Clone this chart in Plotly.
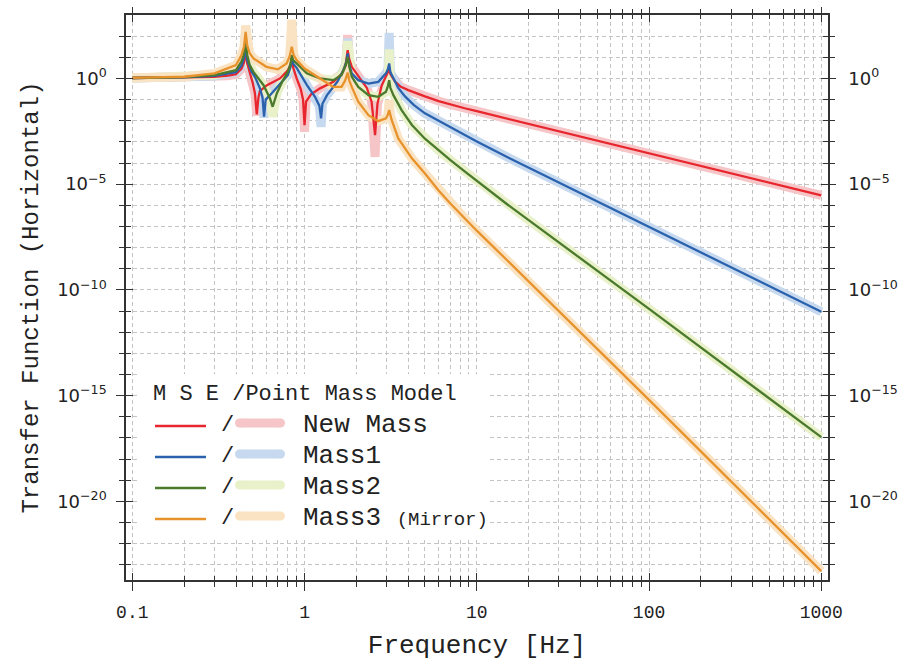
import numpy as np
import plotly.graph_objects as go

# ---------------- data (frequency in Hz, magnitude as log10) ----------------
red_f = [0.1, 0.2, 0.3, 0.36, 0.4, 0.43, 0.445, 0.455, 0.465, 0.48, 0.50, 0.515, 0.528, 0.54, 0.55, 0.605,
         0.72, 0.80, 0.83, 0.843, 0.86, 0.9, 0.95, 0.98, 1.0, 1.02, 1.09, 1.23, 1.47, 1.64, 1.73, 1.78,
         1.82, 1.88, 2.05, 2.3, 2.45, 2.567, 2.65, 2.8, 2.97, 3.05, 3.1, 3.15, 3.35, 3.6, 4.0, 4.5, 5.0,
         6.0, 7.0, 8.5, 10, 20, 100, 1000]
red_mse = [0.02, 0.04, 0.08, 0.13, 0.2, 0.45, 0.75, 1.26, 0.7, 0.3, -0.2, -0.7, -1.70, -0.9, -0.6, -0.32,
           0.0, 0.39, 0.65, 0.96, 0.5, 0.0, -0.5, -1.0, -2.21, -1.1, -0.75, -0.47, -0.16, 0.2, 0.6, 1.34,
           0.9, 0.55, 0.12, -0.45, -1.1, -2.68, -1.2, -0.35, 0.1, 0.3, 0.55, 0.2, -0.15, -0.38, -0.55, -0.72, -0.85,
           -1.07, -1.23, -1.41, -1.55, -2.15, -3.55, -5.53]
red_pm = [0.02, 0.04, 0.08, 0.13, 0.2, 0.45, 0.75, 1.3, 0.7, 0.3, -0.2, -0.7, -1.75, -0.9, -0.6, -0.32,
          0.0, 0.39, 0.65, 1.0, 0.5, 0.0, -0.5, -1.0, -2.52, -1.1, -0.75, -0.47, -0.16, 0.2, 0.6, 2.05,
          0.9, 0.55, 0.12, -0.45, -1.1, -3.71, -1.2, -0.35, 0.1, 0.3, 0.6, 0.2, -0.15, -0.38, -0.55, -0.72, -0.85,
          -1.07, -1.23, -1.41, -1.55, -2.15, -3.55, -5.53]

blue_f = [0.1, 0.2, 0.3, 0.4, 0.43, 0.445, 0.455, 0.465, 0.49, 0.52, 0.55, 0.57, 0.582, 0.595, 0.63, 0.72,
          0.80, 0.83, 0.843, 0.86, 0.90, 1.03, 1.15, 1.22, 1.247, 1.27, 1.35, 1.55, 1.68, 1.75, 1.78, 1.81,
          1.88, 2.05, 2.35, 2.68, 2.97, 3.05, 3.1, 3.15, 3.28, 3.5, 3.83, 4.3, 5.0, 6.0, 7.0, 8.5, 10, 15, 20,
          100, 1000]
blue_mse = [0.02, 0.05, 0.12, 0.3, 0.6, 0.95, 1.5, 0.85, 0.35, 0.0, -0.45, -0.9, -1.81, -1.0, -0.79, -0.24,
            0.16, 0.55, 0.96, 0.7, 0.5, -0.3, -0.87, -1.3, -1.89, -1.2, -0.79, -0.16, 0.39, 0.8, 1.18, 0.7,
            0.24, -0.08, -0.24, -0.16, 0.24, 0.45, 0.71, 0.3, 0.0, -0.45, -0.85, -1.25, -1.65, -2.0, -2.3, -2.68,
            -2.98, -3.72, -4.22, -7.03, -11.03]
blue_pm = [0.02, 0.05, 0.12, 0.3, 0.6, 0.95, 1.55, 0.85, 0.35, 0.0, -0.45, -0.9, -1.85, -1.0, -0.79, -0.24,
           0.16, 0.55, 1.0, 0.7, 0.5, -0.3, -0.87, -1.3, -2.29, -1.2, -0.79, -0.16, 0.39, 0.8, 1.89, 0.7,
           0.24, -0.08, -0.24, -0.16, 0.24, 0.45, 2.15, 0.3, 0.0, -0.45, -0.85, -1.25, -1.65, -2.0, -2.3, -2.68,
           -2.98, -3.72, -4.22, -7.03, -11.03]

green_f = [0.1, 0.2, 0.3, 0.4, 0.43, 0.445, 0.455, 0.465, 0.48, 0.505, 0.578, 0.63, 0.653, 0.69, 0.75, 0.80,
           0.83, 0.843, 0.86, 0.90, 1.03, 1.23, 1.47, 1.64, 1.73, 1.78, 1.82, 1.88, 2.05, 2.35, 2.68, 2.97,
           3.05, 3.1, 3.15, 3.28, 3.66, 4.2, 5.0, 6.0, 7.0, 8.5, 10, 15, 20, 100, 1000]
green_mse = [0.02, 0.06, 0.16, 0.39, 0.8, 1.15, 1.73, 1.1, 0.65, 0.31, -0.32, -0.95, -1.34, -0.71, -0.08, 0.31,
             0.7, 1.1, 0.85, 0.71, 0.24, 0.0, -0.08, 0.16, 0.6, 1.02, 0.55, 0.08, -0.4, -0.79, -0.87, -0.63,
             -0.35, -0.08, -0.45, -0.79, -1.5, -2.2, -2.85, -3.4, -3.85, -4.4, -4.85, -5.95, -6.7, -10.9, -16.96]
green_pm = [0.02, 0.06, 0.16, 0.39, 0.8, 1.15, 1.75, 1.1, 0.65, 0.31, -0.32, -0.95, -1.81, -0.71, -0.08, 0.31,
            0.7, 1.15, 0.85, 0.71, 0.24, 0.0, -0.08, 0.16, 0.6, 1.76, 0.55, 0.08, -0.4, -0.79, -0.87, -0.63,
            -0.35, 1.37, -0.45, -0.79, -1.5, -2.2, -2.85, -3.4, -3.85, -4.4, -4.85, -5.95, -6.7, -10.9, -16.96]

orange_f = [0.1, 0.2, 0.3, 0.4, 0.43, 0.445, 0.455, 0.465, 0.48, 0.505, 0.6, 0.7, 0.787, 0.82, 0.843, 0.865,
            0.9, 1.0, 1.23, 1.47, 1.64, 1.72, 1.78, 1.82, 1.88, 2.05, 2.35, 2.68, 2.97, 3.05, 3.1, 3.15,
            3.2, 3.5, 4.2, 5.0, 6.0, 7.0, 8.5, 10, 15, 20, 100, 1000]
orange_mse = [0.03, 0.08, 0.24, 0.63, 1.1, 1.5, 2.2, 1.55, 1.2, 0.95, 0.55, 0.43, 0.71, 1.05, 1.5, 1.1,
              0.87, 0.47, 0.0, -0.4, -0.4, -0.1, 0.27, -0.1, -0.4, -1.1, -1.74, -2.02, -1.89, -1.7, -1.5, -1.75,
              -1.95, -2.84, -3.78, -4.5, -5.3, -5.9, -6.6, -7.2, -8.6, -9.6, -15.2, -23.3]
orange_pm = [0.03, 0.08, 0.24, 0.63, 1.1, 1.5, 2.5, 1.55, 1.2, 0.95, 0.55, 0.43, 0.71, 1.05, 2.78, 1.1,
             0.87, 0.47, 0.0, -0.4, -0.4, -0.1, 0.67, -0.1, -0.4, -1.1, -1.74, -2.02, -1.89, -1.7, -1.03, -1.75,
             -1.95, -2.84, -3.78, -4.5, -5.3, -5.9, -6.6, -7.2, -8.6, -9.6, -15.2, -23.3]

legend_title = "M S E /Point Mass Model"
legend_names = ["New Mass", "Mass1", "Mass2",
                "Mass3 <span style='font-size:19px'>(Mirror)</span>"]

x_tick_vals = [0.1, 1, 10, 100, 1000]
x_tick_text = ["0.1", "1", "10", "100", "1000"]
y_major_exp = [0, -5, -10, -15, -20]
y_minor_exp = list(range(-23, 3))

# ---------------- style ----------------
line_cols = ["#e8262e", "#2b62ae", "#4b7a2c", "#e8922c"]
band_cols = ["#f6c5c7", "#c6d9ee", "#e8f1c9", "#f9e3c3"]
MONO = "Liberation Mono"
SANS = "DejaVu Sans"
AX = "#333333"
GRID = "#c4c4c4"
GDASH = "4px,3px"

W, H = 901, 665
L, R, T, B = 126, 828, 15, 580
xr = [-1.0366, 3.039]
yr = [-23.72, 3.0]

series = [(red_f, red_mse, red_pm), (blue_f, blue_mse, blue_pm),
          (green_f, green_mse, green_pm), (orange_f, orange_mse, orange_pm)]

fig = go.Figure()
for (f, _, pm), c in zip(series, band_cols):
    fig.add_trace(go.Scatter(x=f, y=np.power(10.0, pm), mode="lines",
                             line=dict(color=c, width=9), showlegend=False, hoverinfo="skip"))
for (f, mse, _), c in zip(series, line_cols):
    fig.add_trace(go.Scatter(x=f, y=np.power(10.0, mse), mode="lines",
                             line=dict(color=c, width=2.3), showlegend=False, hoverinfo="skip"))

# dummy traces to activate overlay axes
for xa, ya in [("x2", "y"), ("x3", "y"), ("x4", "y"), ("x", "y2"), ("x", "y3"), ("x", "y4")]:
    fig.add_trace(go.Scatter(x=[1], y=[1], xaxis=xa, yaxis=ya, mode="markers",
                             marker=dict(opacity=0), showlegend=False, hoverinfo="skip"))

x_minor = [m * 10.0 ** d for d in range(-1, 3) for m in range(2, 10)]
y_major = [10.0 ** e for e in y_major_exp]
y_text = ["10<sup>%s</sup>" % str(e).replace("-", "\u2212") for e in y_major_exp]
y_minor = [10.0 ** e for e in y_minor_exp if e not in y_major_exp]

common_x = dict(type="log", range=xr, showline=True, linecolor=AX, linewidth=1.5, automargin=False,
                tickmode="array", tickvals=x_tick_vals, tickcolor=AX, tickwidth=1.2, zeroline=False)
common_y = dict(type="log", range=yr, showline=True, linecolor=AX, linewidth=1.5, automargin=False,
                tickmode="array", tickvals=y_major, tickcolor=AX, tickwidth=1.2, zeroline=False)

def xminor(ticks, ln, grid=False):
    return dict(tickmode="array", tickvals=x_minor, ticks=ticks, ticklen=ln, tickcolor=AX,
                tickwidth=1.1, showgrid=grid, gridcolor=GRID, griddash=GDASH, gridwidth=1)

def yminor(ticks, ln, grid=False):
    return dict(tickmode="array", tickvals=y_minor, ticks=ticks, ticklen=ln, tickcolor=AX,
                tickwidth=1.1, showgrid=grid, gridcolor=GRID, griddash=GDASH, gridwidth=1)

fig.update_layout(
    width=W, height=H,
    margin=dict(l=L, r=W - R, t=T, b=H - B, pad=0),
    paper_bgcolor="white", plot_bgcolor="white",
    showlegend=False,
    xaxis=dict(**common_x, side="bottom", ticks="outside", ticklen=9,
               ticktext=x_tick_text, tickfont=dict(family=MONO, size=18, color="#222"),
               ticklabelstandoff=6,
               showgrid=True, gridcolor=GRID, griddash=GDASH, gridwidth=1,
               minor=xminor("outside", 5, True),
               title=dict(text="Frequency [Hz]", font=dict(family=MONO, size=26, color="#222"), standoff=12)),
    xaxis2=dict(**common_x, overlaying="x", side="top", anchor="y", ticks="outside", ticklen=6,
                showticklabels=False, showgrid=False, minor=xminor("outside", 4)),
    xaxis3=dict(**common_x, overlaying="x", side="bottom", anchor="y", ticks="inside", ticklen=7,
                showticklabels=False, showgrid=False, minor=xminor("inside", 4)),
    xaxis4=dict(**common_x, overlaying="x", side="top", anchor="y", ticks="inside", ticklen=7,
                showticklabels=False, showgrid=False, minor=xminor("inside", 4)),
    yaxis=dict(**common_y, side="left", ticks="outside", ticklen=8, ticktext=y_text,
               tickfont=dict(family=SANS, size=18, color="#222"), ticklabelstandoff=6,
               showgrid=True, gridcolor=GRID, griddash=GDASH, gridwidth=1,
               minor=yminor("outside", 5, True),
               title=dict(text="Transfer Function (Horizontal)",
                          font=dict(family=MONO, size=24, color="#222"), standoff=12)),
    yaxis2=dict(**common_y, overlaying="y", side="right", anchor="x", ticks="outside", ticklen=6,
                ticktext=y_text, tickfont=dict(family=SANS, size=18, color="#222"),
                ticklabelstandoff=9, showgrid=False, minor=yminor("outside", 5)),
    yaxis3=dict(**common_y, overlaying="y", side="left", anchor="x", ticks="inside", ticklen=7,
                showticklabels=False, showgrid=False, minor=yminor("inside", 5)),
    yaxis4=dict(**common_y, overlaying="y", side="right", anchor="x", ticks="inside", ticklen=7,
                showticklabels=False, showgrid=False, minor=yminor("inside", 5)),
)

# ---------------- custom legend ----------------
def px(xp):
    return (xp - L) / (R - L)

def py(yp):
    return (B - yp) / (B - T)

shapes = [dict(type="rect", xref="paper", yref="paper", x0=px(137), x1=px(488), y0=py(538), y1=py(374),
               fillcolor="white", line=dict(width=0), layer="above")]
annotations = [dict(text=legend_title, xref="paper", yref="paper", x=px(151), y=py(394),
                    xanchor="left", yanchor="middle", showarrow=False,
                    font=dict(family=MONO, size=22, color="#222"))]
row_y = [425, 456, 487, 518]
for ry, lc, bc, name in zip(row_y, line_cols, band_cols, legend_names):
    shapes.append(dict(type="line", xref="paper", yref="paper", x0=px(155), x1=px(206),
                       y0=py(ry + 1), y1=py(ry + 1), line=dict(color=lc, width=2.5), layer="above"))
    shapes.append(dict(type="line", xref="paper", yref="paper", x0=px(239.5), x1=px(280.5),
                       y0=py(ry - 2), y1=py(ry - 2), line=dict(color=bc, width=9), layer="above"))
    for cx in (239.5, 280.5):
        shapes.append(dict(type="circle", xref="paper", yref="paper", x0=px(cx - 4.5), x1=px(cx + 4.5),
                           y0=py(ry - 2 + 4.5), y1=py(ry - 2 - 4.5), fillcolor=bc,
                           line=dict(width=0), layer="above"))
    annotations.append(dict(text="/", xref="paper", yref="paper", x=px(227), y=py(ry),
                            xanchor="center", yanchor="middle", showarrow=False,
                            font=dict(family=MONO, size=22, color="#222")))
    annotations.append(dict(text=name, xref="paper", yref="paper", x=px(301), y=py(ry),
                            xanchor="left", yanchor="middle", showarrow=False,
                            font=dict(family=MONO, size=26, color="#222")))

fig.update_layout(shapes=shapes, annotations=annotations)
fig.write_html("out.html")
